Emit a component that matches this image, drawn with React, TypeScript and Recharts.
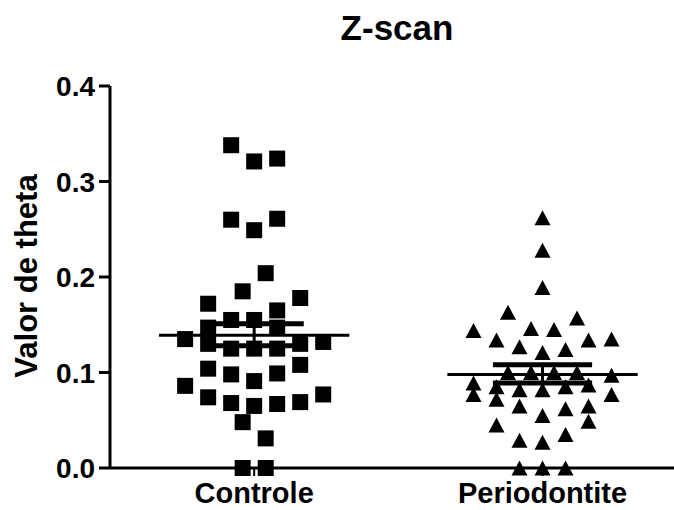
import React from 'react';
import { ScatterChart, Scatter, XAxis, YAxis, ReferenceLine } from 'recharts';

const categories = ['Controle', 'Periodontite'];
const categoryPositions = [1, 2];

const controleValues = [
  0.338, 0.321, 0.324,
  0.260, 0.249, 0.261,
  0.204, 0.185, 0.172, 0.178, 0.165,
  0.147, 0.155, 0.155, 0.147,
  0.135, 0.130, 0.125, 0.125, 0.125, 0.130, 0.132,
  0.104, 0.098, 0.091, 0.099, 0.108,
  0.086, 0.074, 0.068, 0.065, 0.067, 0.069, 0.077,
  0.048, 0.031, 0.0, 0.0,
];
const controleJitter = [
  -2, 0, 2,
  -2, 0, 2,
  1, -1, -4, 4, 2,
  -4, -2, 0, 2,
  -6, -4, -2, 0, 2, 4, 6,
  -4, -2, 0, 2, 4,
  -6, -4, -2, 0, 2, 4, 6,
  -1, 1, -1, 1,
];

const periodontiteValues = [
  0.262, 0.228, 0.189,
  0.163, 0.144, 0.134, 0.146, 0.145, 0.157, 0.134, 0.135,
  0.127, 0.121, 0.124,
  0.100, 0.100, 0.100, 0.100,
  0.097,
  0.089, 0.077, 0.085, 0.072, 0.082, 0.082, 0.085, 0.087, 0.077,
  0.065, 0.055, 0.062, 0.065, 0.049, 0.045,
  0.029, 0.027, 0.035,
  0.0, 0.0, 0.0,
];
const periodontiteJitter = [
  0, 0, 0,
  -3, -6, -4, -1, 1, 3, 4, 6,
  -2, 0, 2,
  -3, -1, 1, 3,
  6,
  -6, -6, -4, -4, -2, 0, 2, 4, 6,
  -2, 0, 2, 4, 4, -4,
  -2, 0, 2,
  -2, 0, 2,
];

const means = [0.139, 0.098];
const semUpper = [0.151, 0.108];
const semLower = [0.128, 0.089];

const yTicks = [0, 0.1, 0.2, 0.3, 0.4];

const JITTER_STEP = 0.0399;
const MEAN_HALF = 0.33;
const SEM_HALF = 0.172;

const controleData = controleValues.map((v, i) => ({ x: categoryPositions[0] + controleJitter[i] * JITTER_STEP, y: v }));
const periodontiteData = periodontiteValues.map((v, i) => ({ x: categoryPositions[1] + periodontiteJitter[i] * JITTER_STEP, y: v }));

const FONT = 'Arial, "Liberation Sans", Helvetica, sans-serif';

const SquareShape = (props: any) => {
  const { cx, cy } = props;
  return <rect x={cx - 8} y={cy - 8} width={16} height={16} fill="#000" />;
};

const TriangleShape = (props: any) => {
  const { cx, cy } = props;
  return <polygon points={`${cx},${cy - 7.5} ${cx - 8},${cy + 7.5} ${cx + 8},${cy + 7.5}`} fill="#000" />;
};

const XTick = (props: any) => {
  const { x, payload } = props;
  const idx = categoryPositions.indexOf(payload.value);
  return (
    <text x={x} y={503} textAnchor="middle" fontFamily={FONT} fontWeight="bold" fontSize={29} fill="#000">
      {categories[idx]}
    </text>
  );
};

const YTick = (props: any) => {
  const { x, y, payload } = props;
  return (
    <text x={x} y={y + 10} textAnchor="end" fontFamily={FONT} fontWeight="bold" fontSize={28} fill="#000">
      {Number(payload.value).toFixed(1)}
    </text>
  );
};

const YLabel = () => (
  <text transform="translate(37,276) rotate(-90)" textAnchor="middle" fontFamily={FONT} fontWeight="bold" fontSize={31} fill="#000">
    Valor de theta
  </text>
);

export default function App() {
  return (
    <div style={{ position: 'absolute', left: 0, top: 0, width: 674, height: 510, background: '#fff' }}>
      <div
        style={{
          position: 'absolute',
          left: 197,
          top: 10,
          width: 400,
          textAlign: 'center',
          fontFamily: FONT,
          fontWeight: 'bold',
          fontSize: 35,
          lineHeight: '35px',
          color: '#000',
        }}
      >
        Z-scan
      </div>
      <ScatterChart width={674} height={510} margin={{ top: 86, right: 0, bottom: 0, left: 0 }}>
        <XAxis
          type="number"
          dataKey="x"
          domain={[0.5, 2.456]}
          ticks={categoryPositions}
          allowDataOverflow
          height={42}
          tick={<XTick />}
          axisLine={{ stroke: '#000', strokeWidth: 3 }}
          tickLine={{ stroke: '#000', strokeWidth: 2 }}
          tickSize={8}
        />
        <YAxis
          type="number"
          dataKey="y"
          domain={[0, 0.4]}
          ticks={yTicks}
          width={110}
          tick={<YTick />}
          axisLine={{ stroke: '#000', strokeWidth: 3 }}
          tickLine={{ stroke: '#000', strokeWidth: 3 }}
          tickSize={11}
          tickMargin={4}
          label={<YLabel />}
        />
        <Scatter data={controleData} shape={<SquareShape />} isAnimationActive={false} />
        <Scatter data={periodontiteData} shape={<TriangleShape />} isAnimationActive={false} />
        {categoryPositions.map((c, i) => (
          <ReferenceLine
            key={`mean-${i}`}
            segment={[{ x: c - MEAN_HALF, y: means[i] }, { x: c + MEAN_HALF, y: means[i] }]}
            stroke="#000"
            strokeWidth={3}
            ifOverflow="visible"
          />
        ))}
        {categoryPositions.map((c, i) => (
          <ReferenceLine
            key={`semu-${i}`}
            segment={[{ x: c - SEM_HALF, y: semUpper[i] }, { x: c + SEM_HALF, y: semUpper[i] }]}
            stroke="#000"
            strokeWidth={5}
            ifOverflow="visible"
          />
        ))}
        {categoryPositions.map((c, i) => (
          <ReferenceLine
            key={`seml-${i}`}
            segment={[{ x: c - SEM_HALF, y: semLower[i] }, { x: c + SEM_HALF, y: semLower[i] }]}
            stroke="#000"
            strokeWidth={5}
            ifOverflow="visible"
          />
        ))}
        {categoryPositions.map((c, i) => (
          <ReferenceLine
            key={`semv-${i}`}
            segment={[{ x: c, y: semLower[i] }, { x: c, y: semUpper[i] }]}
            stroke="#000"
            strokeWidth={3}
            ifOverflow="visible"
          />
        ))}
      </ScatterChart>
    </div>
  );
}
